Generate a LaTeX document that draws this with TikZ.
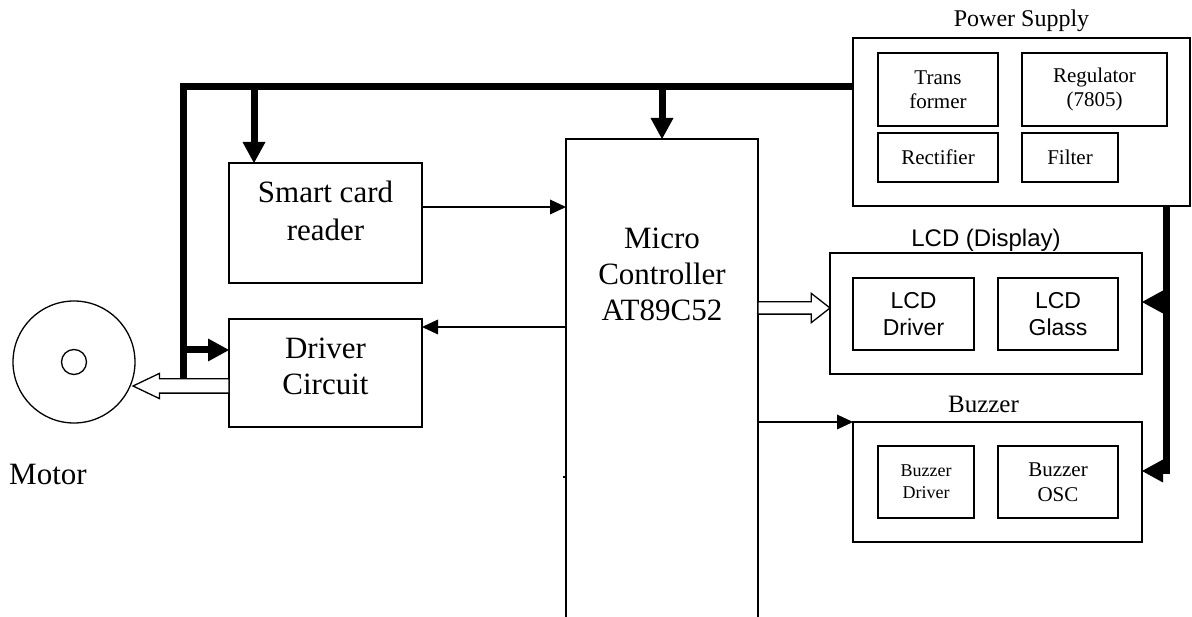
\documentclass[tikz,border=0pt]{standalone}
\usepackage{fontspec}
\setmainfont{Liberation Serif}
\setsansfont{Liberation Sans}
\usetikzlibrary{arrows.meta,shapes.arrows}

\tikzset{
  box/.style={draw, line width=1.3pt, inner sep=0pt, outer sep=0pt, align=center},
  bigtext/.style={font=\fontsize{31}{36}\selectfont, inner sep=0pt, align=center},
  bus/.style={line width=7pt},
  busarrow/.style={bus, -{Triangle[length=21pt,width=23pt,line width=0pt]}},
  sig/.style={line width=1.5pt, -{Triangle[length=16pt,width=15pt,line width=0pt]}},
  hollow/.style={single arrow, draw, fill=white, line width=1.3pt, inner xsep=0pt, outer sep=0pt}
}

\begin{document}
\begin{tikzpicture}[x=1pt,y=-1pt]
  \useasboundingbox (0,0) rectangle (1192,617);
  \clip (0,0) rectangle (1192,617);

  % ---- power supply ----
  \node[box, minimum width=337pt, minimum height=168pt] (ps) at (1021.5,122) {};
  \node[anchor=base, inner sep=0pt, font=\fontsize{24}{28}\selectfont] (pslabel) at ([yshift=11pt]ps.north) {Power Supply};
  \node[box, minimum width=120pt, minimum height=73pt, font=\fontsize{21}{24}\selectfont] (trans) at (938,89.5) {Trans\\former};
  \node[box, minimum width=145pt, minimum height=73pt, font=\fontsize{21}{24}\selectfont] (reg) at (1094.5,89.5) {Regulator\\(7805)};
  \node[box, minimum width=120pt, minimum height=49pt, font=\fontsize{21}{24}\selectfont] (rect) at (938,157.5) {Rectifier};
  \node[box, minimum width=96pt, minimum height=49pt, font=\fontsize{21}{24}\selectfont] (filter) at (1070,157.5) {Filter};

  % ---- LCD ----
  \node[box, minimum width=312pt, minimum height=121pt] (lcd) at (986,313.5) {};
  \node[anchor=base, inner sep=0pt, font=\sffamily\fontsize{24}{28}\selectfont] (lcdlabel) at ([yshift=6pt]lcd.north) {LCD (Display)};
  \node[box, minimum width=121pt, minimum height=72pt, font=\sffamily\fontsize{23}{27}\selectfont] (lcddrv) at (913.5,314) {LCD\\Driver};
  \node[box, minimum width=120pt, minimum height=72pt, font=\sffamily\fontsize{23}{27}\selectfont] (lcdglass) at (1058,314) {LCD\\Glass};

  % ---- buzzer ----
  \node[box, minimum width=289pt, minimum height=120pt] (buzzer) at (997.5,482) {};
  \node[anchor=base, inner sep=0pt, font=\fontsize{25}{30}\selectfont] (buzlabel) at ([xshift=-14pt,yshift=9pt]buzzer.north) {Buzzer};
  \node[box, minimum width=96pt, minimum height=72pt, font=\fontsize{18}{22}\selectfont] (buzdrv) at (926,482) {Buzzer\\Driver};
  \node[box, minimum width=120pt, minimum height=72pt, font=\fontsize{21}{25}\selectfont] (buzosc) at (1058,482) {Buzzer\\OSC};

  % ---- controller, card reader, driver ----
  \node[box, minimum width=192pt, minimum height=511pt] (mc) at (662,394.5) {};
  \node[bigtext] (mctext) at (662,274) {Micro\\Controller\\AT89C52};
  \node[box, minimum width=193pt, minimum height=120pt] (reader) at (325.5,223) {};
  \node[bigtext, font=\fontsize{31}{38}\selectfont] (readertext) at ([yshift=12.5pt]reader.center) {Smart card\\reader};
  \node[box, minimum width=193pt, minimum height=108pt] (driver) at (325.5,373) {};
  \node[bigtext] (drivertext) at ([yshift=7pt]driver.center) {Driver\\Circuit};

  % ---- motor ----
  \node[circle, draw, line width=1.3pt, minimum size=122pt, inner sep=0pt] (motor) at (74,362) {};
  \node[circle, draw, line width=1.3pt, minimum size=25pt, inner sep=0pt] (rotor) at (motor.center) {};
  \node[bigtext, anchor=base west] (motorlabel) at (9,485) {Motor};

  % ---- supply bus ----
  \coordinate (bustl) at (183,87);
  \coordinate (busbl) at (183,379);
  \draw[bus] (ps.west |- bustl) -- (bustl) -- (busbl);
  \coordinate (readertap) at (254,87);
  \draw[busarrow] (readertap) -- (readertap |- reader.north);
  \draw[busarrow] (mc.north |- bustl) -- (mc.north);
  \coordinate (drivertap) at (183,350);
  \draw[busarrow] (drivertap) -- (drivertap -| driver.west);
  \coordinate (psout) at (1166,206);
  \coordinate (buzin) at (1142,471);
  \draw[busarrow] (psout) |- (buzin);
  \coordinate (lcdtap) at (1166,302);
  \draw[busarrow] (lcdtap) -- (lcdtap -| lcd.east);

  % ---- signals ----
  \coordinate (cardline) at (450,207);
  \draw[sig] (cardline -| reader.east) -- (cardline -| mc.west);
  \coordinate (driveline) at (450,327);
  \draw[sig] (driveline -| mc.west) -- (driveline -| driver.east);
  \draw[sig] (mc.east |- buzzer.north west) -- (buzzer.north west);
  \coordinate (tick) at (450,477);
  \draw[line width=1.3pt] (tick -| mc.west) -- ++(-3,0);

  % ---- hollow data arrows ----
  \coordinate (dataline) at (450,308);
  \node[hollow, inner ysep=5.5pt, single arrow head extend=8.5pt, single arrow tip angle=76,
        minimum height=72pt, anchor=tail] (dataout) at (dataline -| mc.east) {};
  \coordinate (motorline) at (200,386);
  \node[hollow, shape border rotate=180, inner ysep=6.5pt, single arrow head extend=5.5pt,
        single arrow tip angle=51, minimum height=96pt, anchor=tail] (motorout) at (motorline -| driver.west) {};

\end{tikzpicture}
\end{document}
